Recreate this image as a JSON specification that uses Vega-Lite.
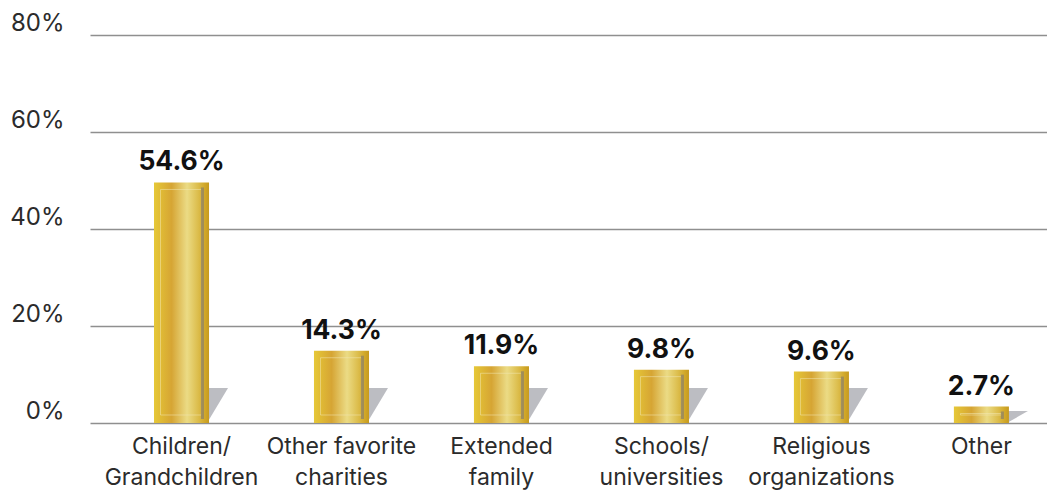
{
  "$schema": "https://vega.github.io/schema/vega-lite/v6.json",
  "autosize": "none",
  "width": 957,
  "height": 388,
  "padding": {"left": 90, "top": 35, "right": 0, "bottom": 69},
  "background": "white",
  "config": {"view": {"stroke": null}},
  "data": {
    "values": [
      {"category": "Children/|Grandchildren", "bar": 49.6, "label": "54.6%"},
      {"category": "Other favorite|charities", "bar": 14.9, "label": "14.3%"},
      {"category": "Extended|family", "bar": 11.7, "label": "11.9%"},
      {"category": "Schools/|universities", "bar": 11.0, "label": "9.8%"},
      {"category": "Religious|organizations", "bar": 10.6, "label": "9.6%"},
      {"category": "Other", "bar": 3.4, "label": "2.7%"}
    ]
  },
  "encoding": {
    "x": {
      "field": "category",
      "type": "nominal",
      "sort": null,
      "scale": {"paddingInner": 0.656, "paddingOuter": 0.319, "align": 0.627},
      "axis": {
        "title": null,
        "domain": false,
        "ticks": false,
        "labelAngle": 0,
        "labelExpr": "split(datum.label, '|')",
        "labelFont": "Inter",
        "labelFontSize": 23,
        "labelColor": "#2b2b2b",
        "labelLineHeight": 31,
        "labelPadding": 12,
        "labelBaseline": "top"
      }
    }
  },
  "layer": [
    {
      "mark": {"type": "point", "filled": true, "opacity": 1, "color": "#bcbdc2", "strokeWidth": 0, "size": 4},
      "encoding": {
        "y": {"datum": 0, "type": "quantitative",
          "scale": {"domain": [0, 80], "nice": false},
          "axis": {
            "title": null,
            "values": [0, 20, 40, 60, 80],
            "format": ".0f",
            "labelExpr": "datum.value + '%'",
            "domain": false,
            "ticks": false,
            "grid": true,
            "gridColor": "#8f8f8f",
            "gridWidth": 1.3,
            "labelFont": "Inter",
            "labelFontSize": 24,
            "labelColor": "#2b2b2b",
            "labelPadding": 26,
            "labelOffset": -12,
            "labelBaseline": "middle"
          }
        },
        "shape": {
          "condition": {"test": "datum.bar < 8", "value": "M20,-12L46.5,-12L25.5,0L20,0Z"},
          "value": "M20,-35L46.5,-35L25.5,0L20,0Z"
        }
      }
    },
    {
      "mark": {
        "type": "bar",
        "color": {
          "gradient": "linear", "x1": 0, "x2": 1, "y1": 0, "y2": 0,
          "stops": [
            {"offset": 0, "color": "#e6c838"},
            {"offset": 0.12, "color": "#e0bb35"},
            {"offset": 0.32, "color": "#d6a534"},
            {"offset": 0.6, "color": "#ebdb85"},
            {"offset": 0.8, "color": "#dcbd4c"},
            {"offset": 0.92, "color": "#d1a82a"},
            {"offset": 1, "color": "#c69a1e"}
          ]
        }
      },
      "encoding": {
        "y": {"field": "bar", "type": "quantitative", "stack": null},
        "y2": {"datum": 0}
      }
    },
    {
      "mark": {"type": "bar", "filled": false, "fill": null, "stroke": "#f3eab8", "strokeWidth": 1, "strokeOpacity": 0.5, "width": 41, "xOffset": -0.5, "yOffset": 7, "y2Offset": -8},
      "encoding": {
        "y": {"field": "bar", "type": "quantitative", "stack": null},
        "y2": {"datum": 0}
      }
    },
    {
      "mark": {"type": "rule", "color": "#9a8a5c", "strokeWidth": 3, "opacity": 0.9, "xOffset": 21, "yOffset": 5, "y2Offset": -4},
      "encoding": {
        "y": {"field": "bar", "type": "quantitative"},
        "y2": {"datum": 0}
      }
    },
    {
      "mark": {"type": "text", "font": "Inter", "fontWeight": "bold", "fontSize": 26.5, "color": "#111111", "baseline": "alphabetic", "dy": -12},
      "encoding": {
        "y": {"field": "bar", "type": "quantitative"},
        "text": {"field": "label"}
      }
    }
  ]
}
